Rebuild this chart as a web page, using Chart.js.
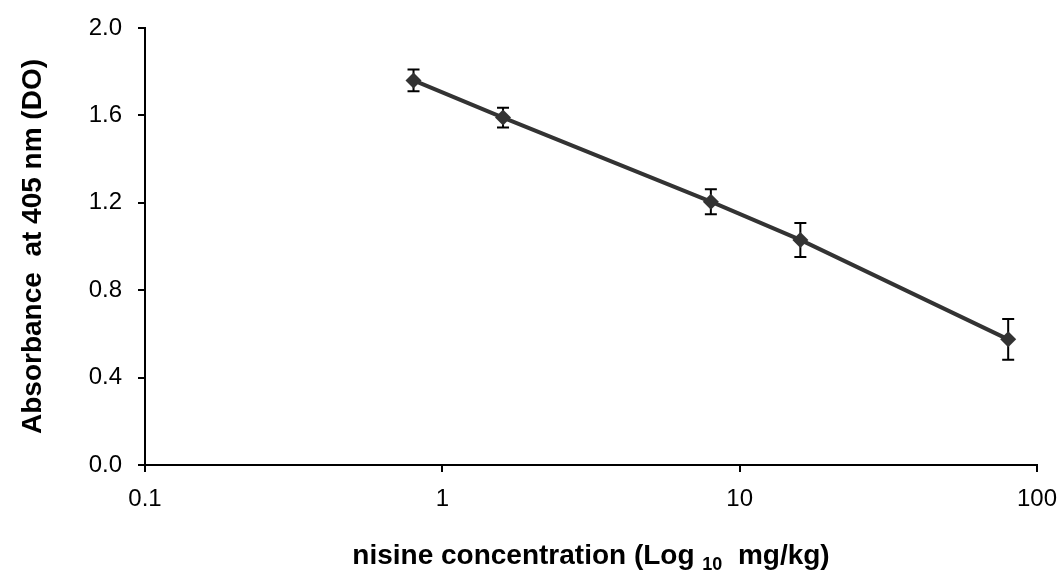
<!DOCTYPE html>
<html><head><meta charset="utf-8">
<script src="https://cdn.jsdelivr.net/npm/chart.js@4/dist/chart.umd.min.js"></script>
<style>html,body{margin:0;padding:0;background:#fff}#wrap{width:1064px;height:576px}</style>
</head><body><div id="wrap"><canvas id="c" width="1064" height="576"></canvas></div>
<script>
const concentrations = [0.8, 1.6, 8, 16, 80];
const absorbance = [1.76, 1.59, 1.205, 1.03, 0.575];
const errors = [0.05, 0.045, 0.057, 0.078, 0.093];
const xTicks = [0.1, 1, 10, 100];
const yTicks = [0, 0.4, 0.8, 1.2, 1.6, 2.0];
const yTitle = 'Absorbance  at 405 nm (DO)';
const xTitleMain = 'nisine concentration (Log ';
const xTitleSub = '10';
const xTitleEnd = '  mg/kg)';

const FAMILY = '"Liberation Sans", Arial, sans-serif';

const errorBars = {
  id: 'errorBars',
  beforeDatasetsDraw(chart) {
    const ctx = chart.ctx, xs = chart.scales.x, ys = chart.scales.y;
    ctx.save();
    ctx.strokeStyle = '#000';
    ctx.lineWidth = 2;
    concentrations.forEach((c, i) => {
      const px = xs.getPixelForValue(c);
      const top = ys.getPixelForValue(absorbance[i] + errors[i]);
      const bot = ys.getPixelForValue(absorbance[i] - errors[i]);
      ctx.beginPath();
      ctx.moveTo(px, top); ctx.lineTo(px, bot);
      ctx.moveTo(px - 6, top); ctx.lineTo(px + 6, top);
      ctx.moveTo(px - 6, bot); ctx.lineTo(px + 6, bot);
      ctx.stroke();
    });
    ctx.restore();
  }
};

const xTitlePlugin = {
  id: 'xTitle',
  afterDraw(chart) {
    const ctx = chart.ctx, a = chart.chartArea;
    ctx.save();
    ctx.fillStyle = '#000';
    ctx.textBaseline = 'alphabetic';
    const mainFont = 'bold 28px ' + FAMILY;
    const subFont = 'bold 18px ' + FAMILY;
    ctx.font = mainFont; const w1 = ctx.measureText(xTitleMain).width; const w3 = ctx.measureText(xTitleEnd).width;
    ctx.font = subFont; const w2 = ctx.measureText(xTitleSub).width;
    const total = w1 + w2 + w3;
    let x = (a.left + a.right) / 2 - total / 2;
    const base = 564;
    ctx.font = mainFont; ctx.fillText(xTitleMain, x, base); x += w1;
    ctx.font = subFont; ctx.fillText(xTitleSub, x, base + 6); x += w2;
    ctx.font = mainFont; ctx.fillText(xTitleEnd, x, base);
    ctx.restore();
  }
};

new Chart(document.getElementById('c'), {
  type: 'line',
  data: {
    datasets: [{
      data: concentrations.map((c, i) => ({x: c, y: absorbance[i]})),
      borderColor: '#333333',
      backgroundColor: '#333333',
      borderWidth: 4,
      pointStyle: 'rectRot',
      pointRadius: 8,
      pointBorderWidth: 0,
      tension: 0
    }]
  },
  options: {
    responsive: false,
    animation: false,
    devicePixelRatio: 1,
    layout: {padding: {top: 28, right: 27, bottom: 0, left: 0}},
    plugins: {legend: {display: false}, tooltip: {enabled: false}},
    scales: {
      x: {
        type: 'logarithmic', min: 0.1, max: 100,
        afterBuildTicks: s => { s.ticks = xTicks.map(v => ({value: v})); },
        afterFit: s => { s.height = 111; s.paddingLeft = 0; s.paddingRight = 0; },
        ticks: {callback: v => String(v), font: {family: FAMILY, size: 24}, color: '#000', padding: 13, maxRotation: 0, autoSkip: false},
        grid: {display: true, drawOnChartArea: false, drawTicks: true, tickLength: 7, color: '#000', lineWidth: 2},
        border: {display: true, color: '#000', width: 2}
      },
      y: {
        min: 0, max: 2,
        afterBuildTicks: s => { s.ticks = yTicks.map(v => ({value: v})); },
        afterFit: s => { s.width = 145; s.paddingTop = 0; s.paddingBottom = 0; },
        ticks: {callback: v => Number(v).toFixed(1), font: {family: FAMILY, size: 24}, color: '#000', padding: 16},
        grid: {display: true, drawOnChartArea: false, drawTicks: true, tickLength: 7, color: '#000', lineWidth: 2},
        border: {display: true, color: '#000', width: 2},
        title: {display: true, text: yTitle, color: '#000', font: {family: FAMILY, size: 28, weight: 'bold'}, padding: {top: 16, bottom: 0}}
      }
    }
  },
  plugins: [errorBars, xTitlePlugin]
});
</script>
</body></html>
